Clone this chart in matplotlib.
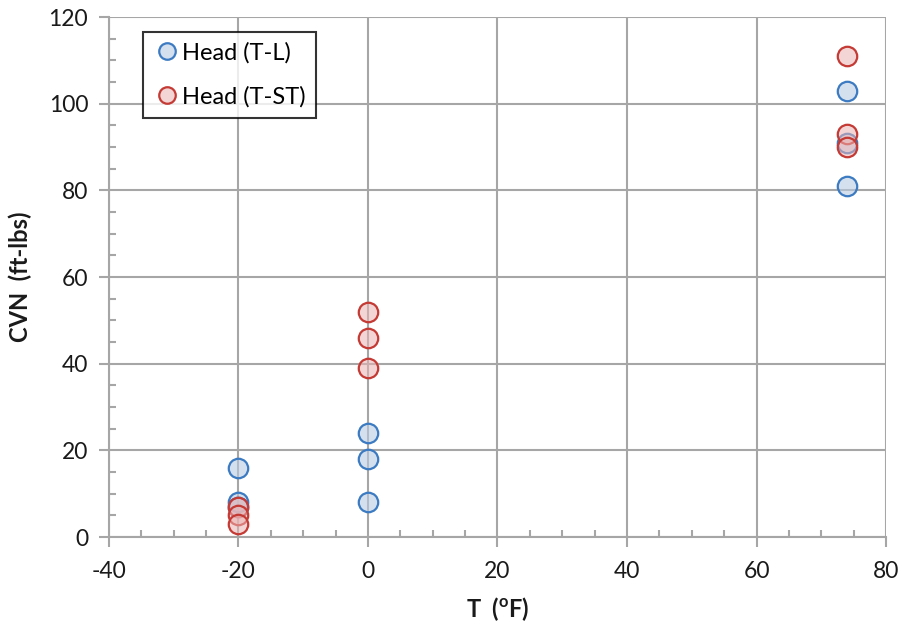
import numpy as np
import matplotlib
matplotlib.use("Agg")
import matplotlib.pyplot as plt
from matplotlib.ticker import MultipleLocator

plt.rcParams['font.family'] = ['Lato', 'DejaVu Sans']
plt.rcParams['axes.unicode_minus'] = False
plt.rcParams['mathtext.fontset'] = 'custom'
plt.rcParams['mathtext.bf'] = 'Lato:bold'
plt.rcParams['mathtext.rm'] = 'Lato'

# data
tl_temp = [-20, -20, -20, 0, 0, 0, 74, 74, 74]
tl_cvn = [16, 8, 7, 24, 18, 8, 103, 91, 81]
tst_temp = [-20, -20, -20, 0, 0, 0, 74, 74, 74]
tst_cvn = [7, 5, 3, 52, 46, 39, 111, 93, 90]

fig = plt.figure(figsize=(9.02, 6.28), dpi=100)
ax = fig.add_axes([0.1208, 0.1449, 0.8615, 0.828])

grid_col = '#a6a6a6'
ax.plot(tl_temp, tl_cvn, 'o', ms=14, mfc=(0.73, 0.80, 0.89, 0.6), mec='#3c7bc2',
        mew=1.6, linestyle='none', label='Head (T-L)', zorder=3)
ax.plot(tst_temp, tst_cvn, 'o', ms=14, mfc=(0.92, 0.70, 0.70, 0.55), mec='#c43a34',
        mew=1.6, linestyle='none', label='Head (T-ST)', zorder=3)

ax.set_xlim(-40, 80)
ax.set_ylim(0, 120)
ax.xaxis.set_major_locator(MultipleLocator(20))
ax.xaxis.set_minor_locator(MultipleLocator(5))
ax.yaxis.set_major_locator(MultipleLocator(20))
ax.yaxis.set_minor_locator(MultipleLocator(5))
ax.grid(True, which='major', color=grid_col, lw=1.5, zorder=0)
ax.set_axisbelow(True)

for s in ['top', 'right']:
    ax.spines[s].set_visible(False)
for s in ['left', 'bottom']:
    ax.spines[s].set_color(grid_col)
    ax.spines[s].set_linewidth(1.5)

ax.tick_params(which='major', direction='out', length=7, width=1.5, color=grid_col,
               labelsize=16.5, labelcolor='#1a1a1a')
ax.tick_params(axis='x', which='major', pad=10)
ax.tick_params(axis='y', which='major', pad=8)
ax.tick_params(which='minor', direction='in', length=5, width=1.5, color=grid_col)

ax.set_xlabel(r'T  ($^{\mathbf{o}}$F)', fontsize=17, fontweight='bold', labelpad=10,
              color='#1a1a1a')
ax.set_ylabel('CVN  (ft-lbs)', fontsize=17, fontweight='bold', labelpad=12,
              color='#1a1a1a')

leg = ax.legend(loc='upper left', bbox_to_anchor=(0.044, 0.972), fontsize=17,
                frameon=True, fancybox=False, edgecolor='black', handletextpad=0.1,
                borderpad=0.45, labelspacing=0.95, handlelength=1.1, markerscale=0.85,
                borderaxespad=0)
leg.get_frame().set_linewidth(1.5)

fig.savefig('out.png', dpi=100)
